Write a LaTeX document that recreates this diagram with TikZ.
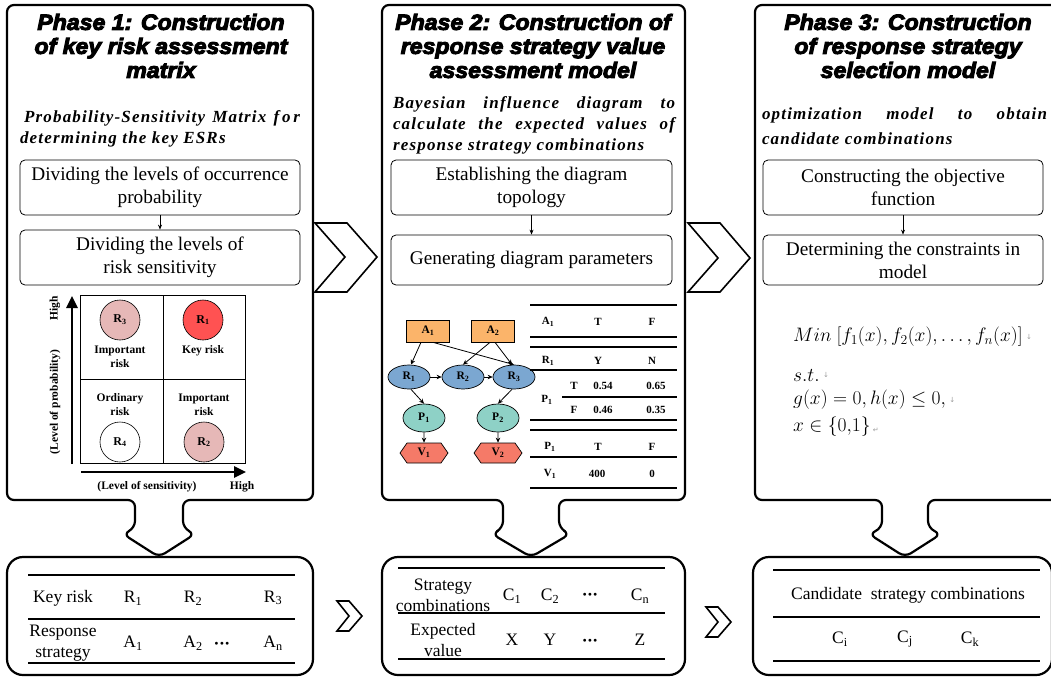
\documentclass[tikz,border=0pt]{standalone}
\usepackage{fix-cm}
\usepackage{fontspec}
\setmainfont{Liberation Serif}
\newfontfamily\headfont{Liberation Sans Bold Italic}[FakeBold=4.5,FakeStretch=1.05]
\newfontfamily\subfont{Liberation Serif Bold Italic}[LetterSpace=7]
\newfontfamily\symfont{DejaVu Sans}
\usetikzlibrary{arrows.meta,shapes.geometric,shapes.symbols}

\newcommand\setfs[2]{\fontsize{#1}{#2}\selectfont}
\newcommand\cdotsbold{\textbf{·\kern-0.5pt·\kern-0.5pt·}}

% phase frame with a downward block arrow cut into its bottom edge
% #1 left, #2 right, #3 arrow centre, #4 stem half width, #5 head half width
\newcommand\phasebox[5]{%
  \draw[phase] ({(#1+#2)/2},5) -- (#2,5) -- (#2,500) -- ({#3+#4},500) -- ({#3+#4},528)
    -- ({#3+#5},534) -- (#3,557) -- ({#3-#5},534) -- ({#3-#4},528) -- ({#3-#4},500)
    -- (#1,500) -- (#1,5) -- cycle;}

\definecolor{aorange}{HTML}{FBB46A}
\definecolor{rblue}{HTML}{7BA7D1}
\definecolor{pteal}{HTML}{8ED1C6}
\definecolor{vsalmon}{HTML}{F57A68}
\definecolor{keyred}{HTML}{FF5252}
\definecolor{imppink}{HTML}{E6B8B7}
\definecolor{markgrey}{HTML}{9A9A9A}

\begin{document}
\begin{tikzpicture}[x=1pt,y=-1pt,
  phase/.style={line width=2.2pt, rounded corners=7pt, line join=round},
  botbox/.style={draw, line width=2.2pt, rounded corners=16pt, inner sep=0pt},
  chev/.style={line width=1.6pt, line join=miter},
  ttl/.style={align=center, inner sep=0pt, font=\headfont\setfs{22}{24}},
  sub/.style={align=justify, inner sep=0pt, font=\subfont\setfs{17}{21}},
  proc/.style={draw, line width=0.8pt, rounded corners=5pt, align=center, inner sep=0pt,
    font=\setfs{19.3}{23}},
  flow/.style={line width=0.7pt, -{Stealth[length=5pt,width=4pt]}},
  mlab/.style={align=center, inner sep=0pt, font=\bfseries\setfs{11.5}{14}},
  riskc/.style={circle, draw, line width=0.6pt, minimum size=40pt, inner sep=0pt,
    font=\bfseries\setfs{12}{12}},
  axis/.style={line width=2.6pt, -{Triangle[length=12pt,width=11pt]}},
  idnode/.style={draw, line width=0.7pt, inner sep=0pt, font=\bfseries\setfs{11.5}{12}},
  idedge/.style={line width=0.8pt, -{Stealth[length=5pt,width=4.5pt]}},
  tab/.style={inner sep=0pt, font=\bfseries\setfs{11}{12}},
  tline/.style={line width=1.2pt},
  btab/.style={inner sep=0pt, align=center, font=\setfs{17.5}{21}},
  bline/.style={line width=1.2pt},
  mathl/.style={anchor=west, inner sep=0pt, font=\setfs{19.5}{22}},
  pmark/.style={inner sep=0pt, text=markgrey, font=\symfont\setfs{7}{8}}]

\useasboundingbox (0,0) rectangle (1051,677);
\clip (0,0) rectangle (1051,677);

% ---------- frames ----------
\phasebox{7}{313}{159}{24}{36}
\phasebox{382}{685}{531}{28}{39}
\phasebox{755}{1062}{905}{23}{36}

\node[botbox, minimum width=306, minimum height=118] (b1) at (160,616) {};
\node[botbox, minimum width=303, minimum height=118] (b2) at (533.5,616) {};
\node[botbox, minimum width=299, minimum height=118] (b3) at (902.5,616) {};

% chevrons between the phases
\draw[chev] (315,223) -- (347,223) -- (377,257) -- (347,292) -- (315,292) -- (345,257) -- cycle;
\draw[chev] (688,223) -- (720,223) -- (750,258) -- (720,292) -- (688,292) -- (718,258) -- cycle;
\draw[chev] (337,601) -- (349,601) -- (362,616) -- (349,631) -- (337,631) -- (349,616) -- cycle;
\draw[chev] (706,607) -- (718,607) -- (731,622) -- (718,637) -- (706,637) -- (718,622) -- cycle;

% ---------- titles ----------
\node[ttl] (t1) at (161,46) {Phase 1: Construction\\of key risk assessment\\matrix};
\node[ttl] (t2) at (533,46) {Phase 2: Construction of\\response strategy value\\assessment model};
\node[ttl] (t3) at (908,46) {Phase 3: Construction\\of response strategy\\selection model};

\node[sub, text width=280] (s1) at (160,129)
  {\hspace*{4pt}Probability-Sensitivity Matrix f\,o\,r\linebreak determining the key ESRs};
\node[sub, text width=282] (s2) at (534,125)
  {Bayesian influence diagram to\linebreak calculate the expected values of\linebreak response strategy combinations};
\node[sub, text width=285, font=\subfont\setfs{17}{25}] (s3) at (904.5,126)
  {optimization model to obtain\linebreak candidate combinations};

% ---------- process steps ----------
\node[proc, minimum width=280, minimum height=55] (p1a) at (160,187.5)
  {Dividing the levels of occurrence\\probability};
\node[proc, minimum width=280, minimum height=55] (p1b) at (160,257.5)
  {Dividing the levels of\\risk sensitivity};
\draw[flow] (p1a) -- (p1b);

\node[proc, minimum width=281, minimum height=55] (p2a) at (531.5,187.5)
  {Establishing the diagram\\topology};
\node[proc, minimum width=281, minimum height=50] (p2b) at (531.5,260)
  {Generating diagram parameters};
\draw[flow] (p2a) -- (p2b);

\node[proc, minimum width=280, minimum height=55] (p3a) at (903,187.5)
  {Constructing the objective\\function};
\node[proc, minimum width=280, minimum height=50] (p3b) at (903,260)
  {Determining the constraints in\\model};
\draw[flow] (p3a) -- (p3b);

% ---------- probability-sensitivity matrix ----------
\draw[line width=0.8pt] (80,295) rectangle (245,463);
\draw[line width=0.8pt] (163,295) -- (163,463);
\draw[line width=0.8pt] (80,379) -- (245,379);
\coordinate (yo) at (72,464);
\coordinate (yt) at (72,296);
\coordinate (xo) at (81,472);
\coordinate (xt) at (246,472);
\draw[axis] (yo) -- (yt);
\draw[axis] (xo) -- (xt);

\node[riskc, fill=imppink] (r3) at (120,320) {R\textsubscript{3}};
\node[riskc, fill=keyred] (r1) at (203,320) {R\textsubscript{1}};
\node[riskc, fill=white] (r4) at (120,442) {R\textsubscript{4}};
\node[riskc, fill=imppink] (r2) at (204,442) {R\textsubscript{2}};

\node[mlab] (l3) at (120,357) {Important\\risk};
\node[mlab] (l1) at (203,351) {Key risk};
\node[mlab] (l4) at (120,405) {Ordinary\\risk};
\node[mlab] (l2) at (204,405) {Important\\risk};

\node[mlab, rotate=90] (yh) at (55,308) {High};
\node[mlab, rotate=90] (yl) at (55,402) {(Level of probability)};
\node[mlab] (xl) at (147,487) {(Level of sensitivity)};
\node[mlab] (xh) at (242,487) {High};

% ---------- influence diagram ----------
\node[idnode, fill=aorange, minimum width=43, minimum height=22] (A1) at (428,331) {A\textsubscript{1}};
\node[idnode, fill=aorange, minimum width=43, minimum height=22] (A2) at (493,331) {A\textsubscript{2}};
\node[idnode, ellipse, fill=rblue, minimum width=42, minimum height=24] (R1) at (409,377) {R\textsubscript{1}};
\node[idnode, ellipse, fill=rblue, minimum width=42, minimum height=24] (R2) at (463,377) {R\textsubscript{2}};
\node[idnode, ellipse, fill=rblue, minimum width=42, minimum height=24] (R3) at (514,377) {R\textsubscript{3}};
\node[idnode, ellipse, fill=pteal, minimum width=42, minimum height=28] (P1) at (424,418) {P\textsubscript{1}};
\node[idnode, ellipse, fill=pteal, minimum width=42, minimum height=28] (P2) at (498,418) {P\textsubscript{2}};
\node[idnode, signal, signal to=east and west, signal pointer angle=110, fill=vsalmon,
  minimum width=48, minimum height=20] (V1) at (424,453) {V\textsubscript{1}};
\node[idnode, signal, signal to=east and west, signal pointer angle=110, fill=vsalmon,
  minimum width=48, minimum height=20] (V2) at (498,453) {V\textsubscript{2}};

\draw[idedge] ([xshift=-7pt]A1.south) -- ([xshift=2pt]R1.north);
\draw[idedge] ([xshift=5pt]A1.south) -- (R3.north);
\draw[idedge] ([xshift=-3pt]A2.south) -- (R2.north);
\draw[idedge] ([xshift=2pt]A2.south) -- ([xshift=-2pt]R3.north);
\draw[idedge] (R1) -- (R2);
\draw[idedge] (R2) -- (R3);
\draw[idedge] ([xshift=2pt]R1.south) -- (P1.north);
\draw[idedge] ([xshift=-2pt]R3.south) -- (P2.north);
\draw[idedge] (P1) -- (V1);
\draw[idedge] (P2) -- (V2);

% ---------- parameter tables ----------
\draw[tline] (530,305) -- (677,305);
\draw[tline] (530,337) -- (677,337);
\draw[tline] (530,347) -- (677,347);
\draw[tline] (530,370) -- (677,370);
\draw[tline] (562,397) -- (677,397);
\draw[tline] (530,420) -- (677,420);
\draw[tline] (530,430) -- (677,430);
\draw[tline] (530,457) -- (677,457);
\draw[tline] (530,488) -- (677,488);

\node[tab] (ta1) at (548,322) {A\textsubscript{1}};
\node[tab] (ta1t) at (598,322) {T};
\node[tab] (ta1f) at (652,322) {F};
\node[tab] (tr1) at (548,361) {R\textsubscript{1}};
\node[tab] (tr1y) at (598,361) {Y};
\node[tab] (tr1n) at (652,361) {N};
\node[tab] (tp1) at (547,400) {P\textsubscript{1}};
\node[tab] (tpt) at (574,386) {T};
\node[tab] (tpt1) at (603,386) {0.54};
\node[tab] (tpt2) at (656,386) {0.65};
\node[tab] (tpf) at (574,410) {F};
\node[tab] (tpf1) at (603,410) {0.46};
\node[tab] (tpf2) at (656,410) {0.35};
\node[tab] (tq1) at (550,447) {P\textsubscript{1}};
\node[tab] (tq1t) at (598,447) {T};
\node[tab] (tq1f) at (652,447) {F};
\node[tab] (tv1) at (550,474) {V\textsubscript{1}};
\node[tab] (tv1t) at (597,474) {400};
\node[tab] (tv1f) at (652,474) {0};

% ---------- optimisation model ----------
\node[mathl] (m1) at (793,337) {$Min\ [f_1(x), f_2(x), \ldots, f_n(x)]$};
\node[mathl] (m2) at (793,375) {$s.t.$};
\node[mathl] (m3) at (793,400) {$g(x) = 0, h(x) \le 0,$};
\node[mathl] (m4) at (793,427) {$x \in \{0{,}1\}$};
\node[pmark, anchor=west] (k1) at ([xshift=3pt]m1.east) {↓};
\node[pmark, anchor=west] (k2) at ([xshift=3pt]m2.east) {↓};
\node[pmark, anchor=west] (k3) at ([xshift=3pt]m3.east) {↓};
\node[pmark, anchor=west] (k4) at ([xshift=2pt,yshift=-3pt]m4.east) {↵};

% ---------- result tables ----------
\draw[bline] (28,575) -- (295,575);
\draw[bline] (28,619) -- (295,619);
\draw[bline] (28,663) -- (295,663);
\node[btab] (k0) at (63,598) {Key risk};
\node[btab] (kr1) at (133,598) {R\textsubscript{1}};
\node[btab] (kr2) at (193,598) {R\textsubscript{2}};
\node[btab] (kr3) at (273,598) {R\textsubscript{3}};
\node[btab] (a0) at (63,643) {Response\\strategy};
\node[btab] (ka1) at (133,643) {A\textsubscript{1}};
\node[btab] (ka2) at (193,643) {A\textsubscript{2}};
\node[btab] (kad) at (222,646) {\cdotsbold};
\node[btab] (kan) at (273,643) {A\textsubscript{n}};

\draw[bline] (398,568) -- (665,568);
\draw[bline] (398,613) -- (665,613);
\draw[bline] (398,659) -- (665,659);
\node[btab] (c0) at (443,595) {Strategy\\combinations};
\node[btab] (c1) at (512,596) {C\textsubscript{1}};
\node[btab] (c2) at (550,596) {C\textsubscript{2}};
\node[btab] (cd) at (590,597) {\cdotsbold};
\node[btab] (cn) at (640,596) {C\textsubscript{n}};
\node[btab] (e0) at (443,640) {Expected\\value};
\node[btab] (ex) at (512,640) {X};
\node[btab] (ey) at (550,640) {Y};
\node[btab] (ed) at (590,643) {\cdotsbold};
\node[btab] (ez) at (640,640) {Z};

\draw[bline] (773,570) -- (1040,570);
\draw[bline] (773,617) -- (1040,617);
\draw[bline] (773,661) -- (1040,661);
\node[btab] (cc) at (908,595) {Candidate\ \ strategy combinations};
\node[btab] (ci) at (840,639) {C\textsubscript{i}};
\node[btab] (cj) at (905,639) {C\textsubscript{j}};
\node[btab] (ck) at (970,639) {C\textsubscript{k}};
\end{tikzpicture}
\end{document}
